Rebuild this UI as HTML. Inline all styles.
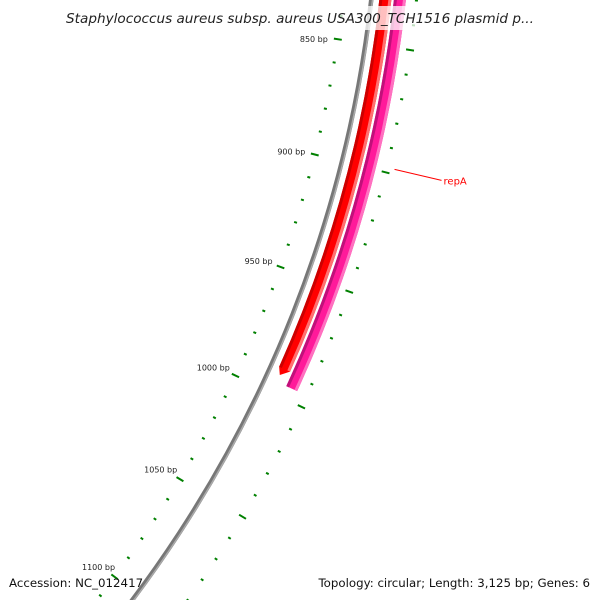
<!DOCTYPE html>
<html><head><meta charset="utf-8"><style>
body{margin:0;background:#fff;overflow:hidden}
svg{display:block;font-family:"DejaVu Sans","Liberation Sans",sans-serif}
</style></head><body>
<svg id="c" width="600" height="600" viewBox="0 0 600 600" xmlns="http://www.w3.org/2000/svg">
<g id="g"></g>
<rect x="60" y="6" width="480" height="24" fill="#fff" opacity="0.75"/>
<text x="300" y="23" text-anchor="middle" font-size="13.6" font-style="italic" fill="#222">Staphylococcus aureus subsp. aureus USA300_TCH1516 plasmid p...</text>
<text x="9" y="587" font-size="11.8" fill="#111">Accession: NC_012417</text>
<text x="590" y="587" text-anchor="end" font-size="11.8" fill="#111">Topology: circular; Length: 3,125 bp; Genes: 6</text>
</svg>
<script>
const totalLength = 3125;
const tickStart = 700;
const tickEnd = 1200;
const labelTicks = [850, 900, 950, 1000, 1050, 1100];
const genes = [
  {name: "red-gene", start: 600, end: 992, color: "#ff0000", dark: "#cc0000", light: "#ff7070", ring: 1241, arrow: true},
  {name: "repA-gene", start: 600, end: 995, color: "#ff1a9a", dark: "#c0107a", light: "#ff70c0", ring: 1255.5, arrow: false}
];
const geneLabel = {text: "repA", bp: 898};

const CX = -848, CY = -138;
const A0 = 8.5, DPB = 0.1124;
const NS = "http://www.w3.org/2000/svg";
const g = document.getElementById('g');
function angDeg(bp){ return A0 + (bp - 850) * DPB; }
function ang(bp){ return angDeg(bp) * Math.PI / 180; }
function pt(bp, r){ const a = ang(bp); return [CX + r * Math.cos(a), CY + r * Math.sin(a)]; }
function mk(tag, attrs){ const e = document.createElementNS(NS, tag); for (const k in attrs) e.setAttribute(k, attrs[k]); g.appendChild(e); return e; }
function arcPath(b1, b2, r){ const p1 = pt(b1, r), p2 = pt(b2, r); return `M${p1[0]},${p1[1]} A${r},${r} 0 0 1 ${p2[0]},${p2[1]}`; }

let bb = mk('circle', {cx: CX, cy: CY, r: 1227, fill: 'none', stroke: '#777', 'stroke-width': 4.5});


let bb2 = mk('circle', {cx: CX, cy: CY, r: 1228.3, fill: 'none', stroke: '#aaa', 'stroke-width': 1.5});



genes.forEach(gn => {
  const w = 12, r = gn.ring;
  const endBody = gn.arrow ? gn.end - 3 : gn.end;
  const o1 = pt(gn.start, r + w/2), o2 = pt(endBody, r + w/2), i2 = pt(endBody, r - w/2), i1 = pt(gn.start, r - w/2);
  let d = `M${o1[0]},${o1[1]} A${r+w/2},${r+w/2} 0 0 1 ${o2[0]},${o2[1]} `;
  if (gn.arrow) { const tip = pt(gn.end, r - 2); d += `L${tip[0]},${tip[1]} `; }
  d += `L${i2[0]},${i2[1]} A${r-w/2},${r-w/2} 0 0 0 ${i1[0]},${i1[1]} Z`;
  const p = mk('path', {d: d, fill: gn.color});
  
  
  const e1 = mk('path', {d: arcPath(gn.start, endBody, r - w/2 + 1.5), fill: 'none', stroke: gn.dark, 'stroke-width': 3});
  
  
  const e2 = mk('path', {d: arcPath(gn.start, endBody, r + w/2 - 1.5), fill: 'none', stroke: gn.light, 'stroke-width': 3});
  
  
});

for (let bp = tickStart; bp <= tickEnd; bp += 10) {
  const major = bp % 50 === 0;
  [[1199, 'inner'], [1272, 'outer']].forEach(([rr, which]) => {
    const h = major ? 4 : 1.5;
    const a = pt(bp, rr - h), b = pt(bp, rr + h);
    const t = mk('line', {x1: a[0], y1: a[1], x2: b[0], y2: b[1], stroke: '#008000', 'stroke-width': 2});
    
    
  });
}
labelTicks.forEach(bp => {
  const p = pt(bp, 1199);
  const phi = (angDeg(bp) - 8.5) * 3.3 * Math.PI / 180;
  const t = mk('text', {x: p[0] - 10 * Math.cos(phi), y: p[1] - 10 * Math.sin(phi) + 3, 'text-anchor': 'end', 'font-size': 8, fill: '#222'});
  t.textContent = bp + ' bp';
  
  
});

const lp = pt(geneLabel.bp, 1280);
const ln = mk('line', {x1: lp[0], y1: lp[1], x2: lp[0] + 47, y2: lp[1] + 11, stroke: '#ff0000', 'stroke-width': 1});


const lt = mk('text', {x: lp[0] + 49, y: lp[1] + 15, 'font-size': 10, fill: '#ff0000'});
lt.textContent = geneLabel.text;


</script>
</body></html>
